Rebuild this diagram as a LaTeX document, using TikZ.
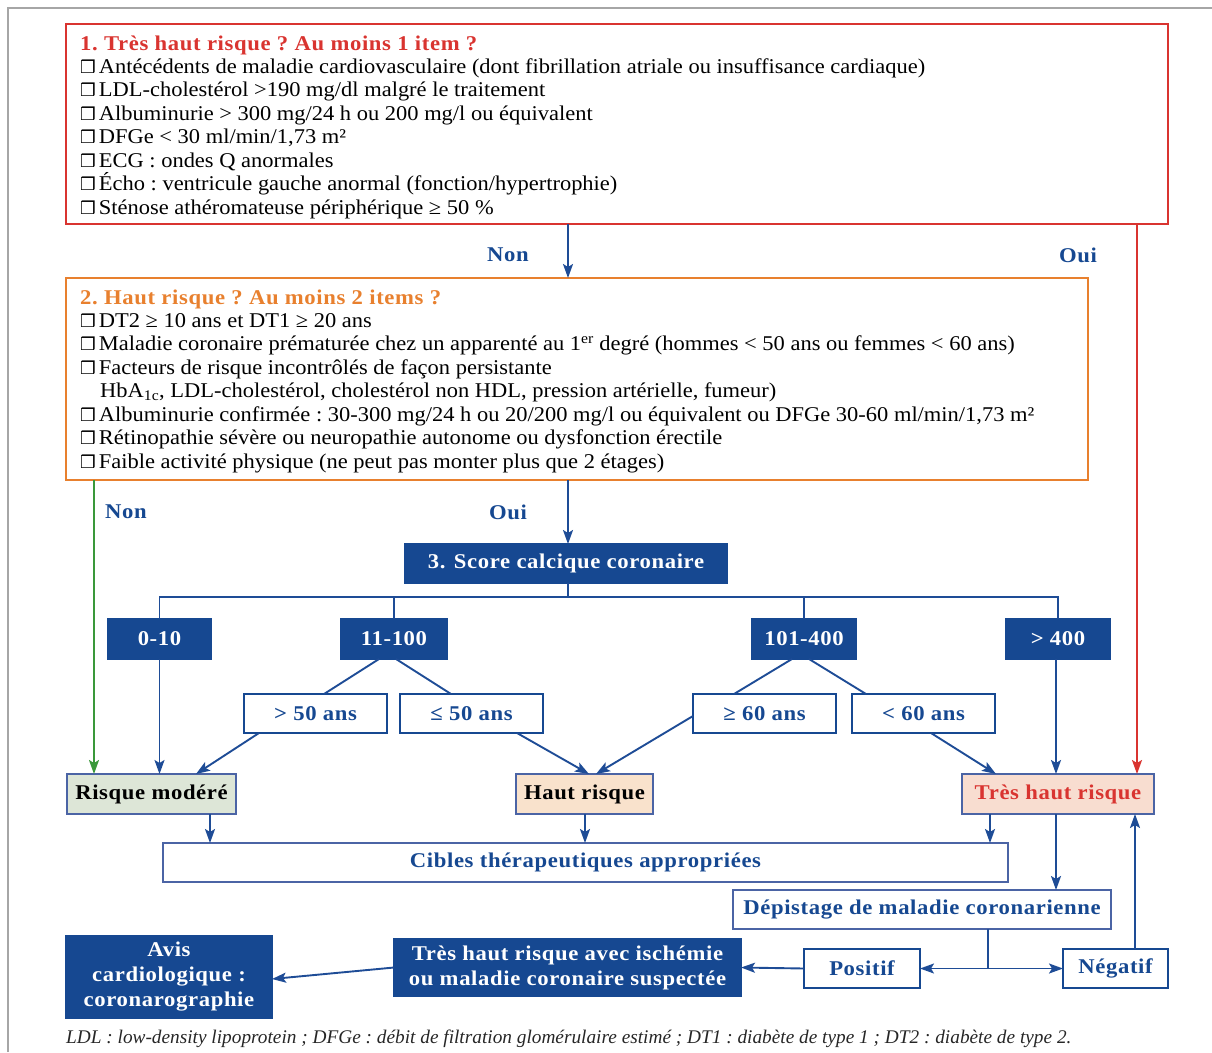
\documentclass[tikz,border=0pt]{standalone}
\usepackage{fontspec}
\setmainfont{Liberation Serif}
\newfontfamily\dejavu{DejaVu Sans}
\newfontfamily\bsp[LetterSpace=3,FakeStretch=1.08]{Liberation Serif}
\newfontfamily\bodyf[FakeStretch=1.07]{Liberation Serif}
\usetikzlibrary{arrows.meta,calc}
\definecolor{dblue}{RGB}{22,72,145}
\definecolor{lblue}{RGB}{30,76,150}
\definecolor{bred}{RGB}{217,52,48}
\definecolor{borange}{RGB}{232,128,46}
\definecolor{bgreen}{RGB}{58,152,58}
\definecolor{fmod}{RGB}{221,230,215}
\definecolor{fhaut}{RGB}{249,226,204}
\definecolor{ftres}{RGB}{248,221,208}
\definecolor{bordbox}{RGB}{75,100,165}
\newcommand\cb{{\dejavu\fontsize{17.5}{17}\selectfont ❒}\hspace{3pt}}
\tikzset{
  body/.style={font=\frenchspacing\bodyf\fontsize{21}{23.4}\selectfont, inner sep=0pt, anchor=base west},
  ttl/.style={body, font=\frenchspacing\bsp\bfseries\fontsize{21}{23.4}\selectfont},
  lab/.style={font=\bsp\bfseries\fontsize{21}{22}\selectfont, text=dblue, inner sep=0pt},
  frame/.style={draw, line width=1.6pt, inner sep=0pt, outer sep=0pt},
  fillbox/.style={frame, draw=dblue, fill=dblue, text=white, font=\bsp\bfseries\fontsize{21}{23}\selectfont, align=center},
  whitebox/.style={frame, draw=dblue, fill=white, text=dblue, font=\bsp\bfseries\fontsize{21}{23}\selectfont, align=center},
  riskbox/.style={frame, draw=bordbox, font=\bsp\bfseries\fontsize{21}{23}\selectfont},
  conn/.style={draw=lblue, line width=1.9pt},
  arr/.style={conn, -{Stealth[length=14pt,width=10pt,inset=3pt]}},
}
\begin{document}
\begin{tikzpicture}[x=1pt,y=-1pt]
\useasboundingbox (0,0) rectangle (1212,1052);
\draw[gray!70, line width=1.5pt] (8,1052) -- (8,8) -- (1212,8);

% Box 1
\node[frame, draw=bred, minimum width=1102, minimum height=200] (box1) at (617,124) {};
\node[ttl, text=bred] (a0) at (80,50) {1. Très haut risque ? Au moins 1 item ?};
\node[body] (a1) at (80,73.4) {\cb Antécédents de maladie cardiovasculaire (dont fibrillation atriale ou insuffisance cardiaque)};
\node[body] (a2) at (80,96.9) {\cb LDL-cholestérol >190 mg/dl malgré le traitement};
\node[body] (a3) at (80,120.3) {\cb Albuminurie > 300 mg/24 h ou 200 mg/l ou équivalent};
\node[body] (a4) at (80,143.7) {\cb DFGe < 30 ml/min/1,73 m²};
\node[body] (a5) at (80,167.2) {\cb ECG : ondes Q anormales};
\node[body] (a6) at (80,190.6) {\cb Écho : ventricule gauche anormal (fonction/hypertrophie)};
\node[body] (a7) at (80,214) {\cb Sténose athéromateuse périphérique ≥ 50 \%};

% Box 2
\node[frame, draw=borange, minimum width=1022, minimum height=202] (box2) at (577,379) {};
\node[ttl, text=borange] (b0) at (80,304) {2. Haut risque ? Au moins 2 items ?};
\node[body] (b1) at (80,327.4) {\cb DT2 ≥ 10 ans et DT1 ≥ 20 ans};
\node[body] (b2) at (80,350.9) {\cb Maladie coronaire prématurée chez un apparenté au 1\textsuperscript{er} degré (hommes < 50 ans ou femmes < 60 ans)};
\node[body] (b3) at (80,374.3) {\cb Facteurs de risque incontrôlés de façon persistante};
\node[body] (b4) at (100,397.7) {HbA\textsubscript{1c}, LDL-cholestérol, cholestérol non HDL, pression artérielle, fumeur)};
\node[body] (b5) at (80,421.2) {\cb Albuminurie confirmée : 30-300 mg/24 h ou 20/200 mg/l ou équivalent ou DFGe 30-60 ml/min/1,73 m²};
\node[body] (b6) at (80,444.6) {\cb Rétinopathie sévère ou neuropathie autonome ou dysfonction érectile};
\node[body] (b7) at (80,468) {\cb Faible activité physique (ne peut pas monter plus que 2 étages)};

% labels
\node[lab] (non1) at (508,255) {Non};
\node[lab] (oui1) at (1078,255) {Oui};
\node[lab] (non2) at (126,512) {Non};
\node[lab] (oui2) at (508,512) {Oui};

% score
\node[fillbox, minimum width=322, minimum height=39] (score) at (566,563.5) {3. Score calcique coronaire};
\node[fillbox, minimum width=103, minimum height=40] (r0) at (159.5,639) {0-10};
\node[fillbox, minimum width=106, minimum height=40] (r1) at (394,639) {11-100};
\node[fillbox, minimum width=104, minimum height=40] (r2) at (804,639) {101-400};
\node[fillbox, minimum width=104, minimum height=40] (r3) at (1058,639) {> 400};

\node[whitebox, minimum width=143, minimum height=39] (g1) at (315.5,713.5) {> 50 ans};
\node[whitebox, minimum width=143, minimum height=39] (g2) at (471.5,713.5) {≤ 50 ans};
\node[whitebox, minimum width=143, minimum height=39] (g3) at (764.5,713.5) {≥ 60 ans};
\node[whitebox, minimum width=143, minimum height=39] (g4) at (923.5,713.5) {< 60 ans};

\node[riskbox, fill=fmod, text=black, minimum width=169, minimum height=40] (modere) at (151.5,794) {Risque modéré};
\node[riskbox, fill=fhaut, text=black, minimum width=137, minimum height=40] (haut) at (584.5,794) {Haut risque};
\node[riskbox, fill=ftres, text=bred, minimum width=192, minimum height=40] (tres) at (1058,794) {Très haut risque};

\node[whitebox, draw=bordbox, minimum width=845, minimum height=39] (cibles) at (585.5,862.5) {Cibles thérapeutiques appropriées};
\node[whitebox, draw=bordbox, minimum width=378, minimum height=39] (dep) at (922,909.5) {Dépistage de maladie coronarienne};
\node[whitebox, minimum width=116, minimum height=39] (pos) at (862,968.5) {Positif};
\node[whitebox, minimum width=105, minimum height=39] (neg) at (1115.5,968.5) {Négatif};
\node[fillbox, minimum width=347, minimum height=57, font=\bsp\bfseries\fontsize{21}{25}\selectfont] (isch) at (567.5,967.5) {Très haut risque avec ischémie\\ou maladie coronaire suspectée};
\node[fillbox, minimum width=206, minimum height=82, font=\frenchspacing\bsp\bfseries\fontsize{21}{25}\selectfont] (avis) at (169,977) {Avis\\cardiologique :\\coronarographie};

\node[inner sep=0pt, anchor=base west, font=\frenchspacing\itshape\fontsize{19.3}{20}\selectfont, text=black!85] (foot) at (66,1043) {LDL : low-density lipoprotein ; DFGe : débit de filtration glomérulaire estimé ; DT1 : diabète de type 1 ; DT2 : diabète de type 2.};

% connectors
\draw[arr] (box1.south -| 568,0) -- (box2.north -| 568,0);
\draw[arr, draw=bred] (box1.south -| 1137,0) -- (tres.north -| 1137,0);
\draw[arr, draw=bgreen] (box2.south -| 94,0) -- (modere.north -| 94,0);
\draw[arr] (box2.south -| 568,0) -- (score.north -| 568,0);
\coordinate (bar) at (568,597);
\draw[conn] (score.south -| bar) -- (bar);
\draw[conn] (r0.north) |- (r3.north |- bar) -- (r3.north);
\draw[conn] (r1.north) -- (r1.north |- bar);
\draw[conn] (r2.north) -- (r2.north |- bar);
\draw[conn] ($(r1.south)+(-15,0)$) -- ($(g1.north)+(8.5,0)$);
\draw[conn] ($(r1.south)+(2,0)$) -- ($(g2.north)+(-20.5,0)$);
\draw[conn] ($(r2.south)+(-12,0)$) -- ($(g3.north)+(-30.5,0)$);
\draw[conn] ($(r2.south)+(5,0)$) -- ($(g4.north)+(-57.5,0)$);
\draw[arr] (r0.south) -- (r0.south |- modere.north);
\draw[arr] ($(g1.south)+(-56.5,0)$) -- ($(modere.north)+(44.5,0)$);
\draw[arr] ($(g2.south)+(45.5,0)$) -- ($(haut.north)+(4.5,0)$);
\draw[arr] ($(g3.west)+(0,2.5)$) -- ($(haut.north)+(11.5,0)$);
\draw[arr] ($(g4.south)+(7.5,0)$) -- ($(tres.north)+(-62,0)$);
\draw[arr] ($(r3.south)+(-2,0)$) -- ($(tres.north)+(-2,0)$);

\draw[arr] (modere.south -| 210,0) -- (cibles.north -| 210,0);
\draw[arr] (haut.south -| 585,0) -- (cibles.north -| 585,0);
\draw[arr] (tres.south -| 990,0) -- (cibles.north -| 990,0);
\draw[arr] (tres.south -| 1056,0) -- (dep.north -| 1056,0);
\draw[arr] (neg.north -| 1135,0) -- (tres.south -| 1135,0);
\coordinate (jn) at (988,968.5);
\draw[conn] (dep.south -| jn) -- (jn);
\draw[arr] (jn) -- (pos.east);
\draw[arr] (jn) -- (neg.west);
\draw[arr] (pos.west) -- (isch.east);
\draw[arr] (isch.west) -- ($(avis.east)+(0,2)$);
\end{tikzpicture}
\end{document}
